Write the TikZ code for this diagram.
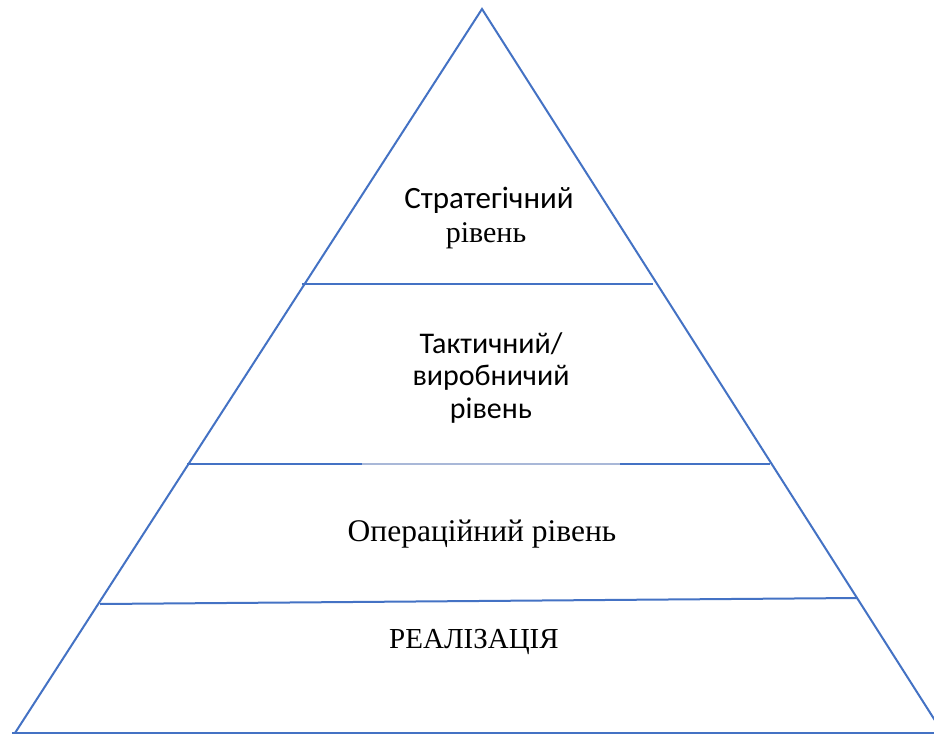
\documentclass[tikz,border=0pt]{standalone}
\usepackage{fontspec}
\setmainfont{Liberation Serif}
\newfontfamily\carl{Carlito}
\definecolor{tblue}{HTML}{4472C4}
\definecolor{lblue}{HTML}{A9B8D8}
\begin{document}
\begin{tikzpicture}[x=1pt,y=-1pt,
  edge/.style={draw=tblue,line width=2pt},
  faint/.style={draw=lblue,line width=1.2pt},
  sanslbl/.style={font=\carl\fontsize{30}{32.5}\selectfont,align=center,inner sep=0pt},
  seriflbl/.style={font=\fontsize{30}{34}\selectfont,align=center,inner sep=0pt}]
\useasboundingbox (0,0) rectangle (934,735);
\clip (0,0) rectangle (934,735);
\fill[white] (0,0) rectangle (934,735);
\coordinate (apex) at (482,9);
\coordinate (bl) at (15,733);
\coordinate (br) at (943,733);
\draw[edge,line join=miter] (bl) -- (apex) -- (br);
\coordinate (b0) at (12,733);
\coordinate (b1) at (940,733);
\draw[edge] (b0) -- (b1);
% level lines
\coordinate (s1) at (302,284); \coordinate (s2) at (335,284);
\coordinate (s3) at (643,284); \coordinate (s4) at (653,284);
\draw[edge] (s1) -- (s2);
\draw[edge,line width=1.4pt] (s2) -- (s3);
\draw[edge] (s3) -- (s4);
\coordinate (t1) at (187,464); \coordinate (t2) at (362,464);
\coordinate (t3) at (620,464); \coordinate (t4) at (770,464);
\draw[edge] (t1) -- (t2);
\draw[faint] (t2) -- (t3);
\draw[edge] (t3) -- (t4);
\coordinate (o1) at (100,604); \coordinate (o2) at (857,598);
\draw[edge] (o1) -- (o2);
% labels
\node[sanslbl,font=\carl\fontsize{31}{33}\selectfont] (strat) at (489,200) {Стратегічний};
\node[seriflbl] (stratb) at (486,236) {рівень};
\node[sanslbl] (tact) at (491,378) {Тактичний/\\виробничий\\рівень};
\node[seriflbl,font=\fontsize{31.5}{34}\selectfont] (oper) at (482,534) {Операційний рівень};
\node[seriflbl,font=\fontsize{29}{34}\selectfont] (real) at (474,642) {РЕАЛІЗАЦІЯ};
\end{tikzpicture}
\end{document}
